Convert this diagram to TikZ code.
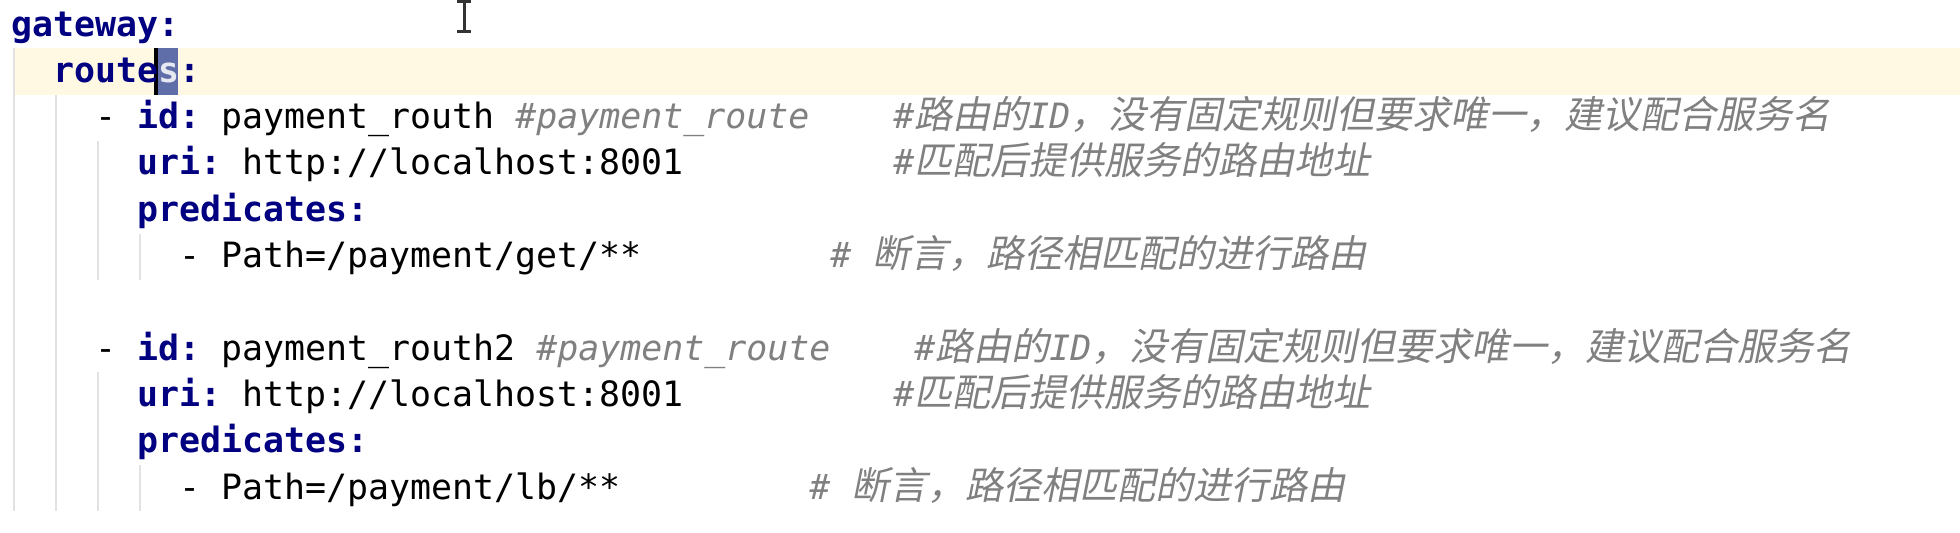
\documentclass[tikz,border=0pt]{standalone}
\usepackage{fontspec}
\newfontfamily\codefont{DejaVu Sans Mono}
\newfontfamily\cjkfont[FakeSlant=0.2]{Noto Sans CJK SC}

\definecolor{kwblue}{HTML}{000080}
\definecolor{cmtgray}{HTML}{808080}
\definecolor{rowyellow}{HTML}{FFF9E3}
\definecolor{guidegray}{HTML}{E2E2E2}
\definecolor{selblue}{HTML}{5F6DA8}
\definecolor{selfg}{HTML}{E6E8F2}

\newcommand\kw{\bfseries\color{kwblue}}
\newcommand\zh[1]{\smash{\cjkfont\fontsize{19pt}{20pt}\selectfont #1}}

\tikzset{
  code/.style={anchor=base west, inner sep=0pt,
    font=\codefont\fontsize{17.44pt}{20pt}\selectfont\frenchspacing},
  cmt/.style={code, text=cmtgray, font=\codefont\fontsize{17.44pt}{20pt}\selectfont\frenchspacing\itshape},
  guide/.style={draw=guidegray, line width=1.2pt},
}

\begin{document}
\frenchspacing
\begin{tikzpicture}[x=0.5pt, y=-0.5pt]

  \newcommand\X{21};
  \newcommand\Y{46.3};

  \useasboundingbox (0,0) rectangle (1960,532);

  \fill[rowyellow] (13, 2+1*\Y) rectangle (1960, 2+2*\Y); %% caret row

  \draw[guide] (14+0*\X, 2+1*\Y) -- (14+0*\X, 2+11*\Y);
  \draw[guide] (14+2*\X, 2+2*\Y) -- (14+2*\X, 2+11*\Y);
  \draw[guide] (14+4*\X, 2+3*\Y) -- (14+4*\X, 2+6*\Y);
  \draw[guide] (14+4*\X, 2+8*\Y) -- (14+4*\X, 2+11*\Y);
  \draw[guide] (14+6*\X, 2+5*\Y) -- (14+6*\X, 2+6*\Y);
  \draw[guide] (14+6*\X, 2+10*\Y) -- (14+6*\X, 2+11*\Y);

  \fill[selblue] (11+7*\X, 2+1*\Y) rectangle (10+8*\X, 2+2*\Y); %% selected s
  \fill[black] (7+7*\X, 2+1*\Y) rectangle (11+7*\X, 2+2*\Y); %% caret

  \node[code] (gateway) at (11+0*\X, 36+0*\Y) {{\kw gateway:}};
  \node[code] (routes) at (11+2*\X, 36+1*\Y) {{\kw route}{\bfseries\color{selfg}s}{\kw :}};

  % first route
  \node[code] (id1) at (11+4*\X, 36+2*\Y) {- {\kw id:} payment\_routh};
  \node[cmt] (name1) at (11+24*\X, 36+2*\Y) {\#payment\_route};
  \node[cmt] (idnote1) at (11+42*\X, 36+2*\Y) {\#\zh{路由的}ID\zh{，没有固定规则但要求唯一，建议配合服务名}};
  \node[code] (uri1) at (11+6*\X, 36+3*\Y) {{\kw uri:} http://localhost:8001};
  \node[cmt] (urinote1) at (11+42*\X, 36+3*\Y) {\#\zh{匹配后提供服务的路由地址}};
  \node[code] (pred1) at (11+6*\X, 36+4*\Y) {{\kw predicates:}};
  \node[code] (path1) at (11+8*\X, 36+5*\Y) {- Path=/payment/get/**};
  \node[cmt] (pathnote1) at (11+39*\X, 36+5*\Y) {\# \zh{断言，路径相匹配的进行路由}};

  % second route
  \node[code] (id2) at (11+4*\X, 36+7*\Y) {- {\kw id:} payment\_routh2};
  \node[cmt] (name2) at (11+25*\X, 36+7*\Y) {\#payment\_route};
  \node[cmt] (idnote2) at (11+43*\X, 36+7*\Y) {\#\zh{路由的}ID\zh{，没有固定规则但要求唯一，建议配合服务名}};
  \node[code] (uri2) at (11+6*\X, 36+8*\Y) {{\kw uri:} http://localhost:8001};
  \node[cmt] (urinote2) at (11+42*\X, 36+8*\Y) {\#\zh{匹配后提供服务的路由地址}};
  \node[code] (pred2) at (11+6*\X, 36+9*\Y) {{\kw predicates:}};
  \node[code] (path2) at (11+8*\X, 36+10*\Y) {- Path=/payment/lb/**};
  \node[cmt] (pathnote2) at (11+38*\X, 36+10*\Y) {\# \zh{断言，路径相匹配的进行路由}};

  \draw[line width=1.5pt, color=black!80] (464,1) -- (464,31) (457,1) -- (471,1) (457,31) -- (471,31); %% mouse I-beam

\end{tikzpicture}
\end{document}
